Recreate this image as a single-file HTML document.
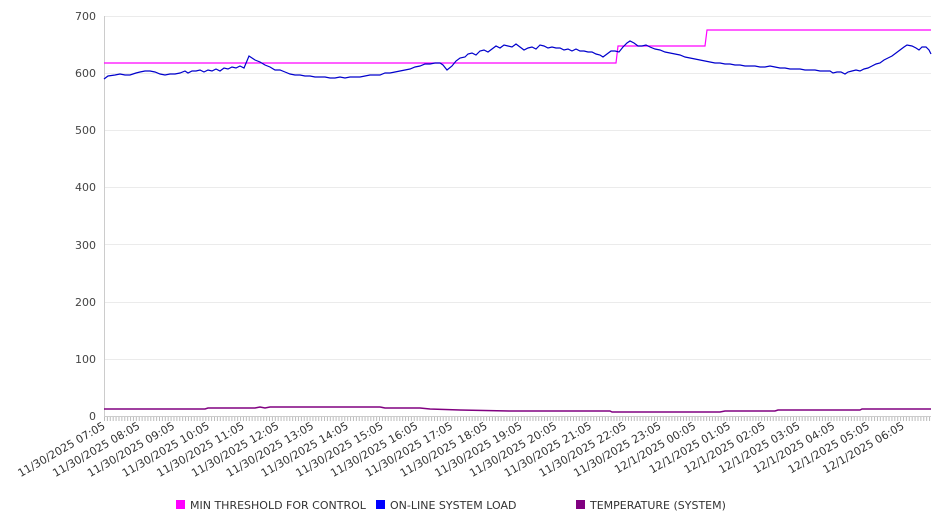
<!DOCTYPE html>
<html><head><meta charset="utf-8"><style>
html,body{margin:0;padding:0;background:#fff;width:946px;height:526px;overflow:hidden}
svg{display:block;font-family:"DejaVu Sans","Liberation Sans",sans-serif}
</style></head><body>
<svg width="946" height="526" xmlns="http://www.w3.org/2000/svg" id="s">
<g stroke="#ebebeb" stroke-width="1">
<line x1="104" x2="931" y1="16.5" y2="16.5"/><line x1="104" x2="931" y1="73.5" y2="73.5"/>
<line x1="104" x2="931" y1="130.5" y2="130.5"/><line x1="104" x2="931" y1="187.5" y2="187.5"/>
<line x1="104" x2="931" y1="244.5" y2="244.5"/><line x1="104" x2="931" y1="302.5" y2="302.5"/>
<line x1="104" x2="931" y1="359.5" y2="359.5"/>
</g>
<line x1="104.5" x2="104.5" y1="16" y2="416" stroke="#ccc"/>
<line x1="104" x2="931" y1="416.5" y2="416.5" stroke="#ccc"/>
<g font-size="11" fill="#444" text-anchor="end">
<text x="96" y="20">700</text><text x="96" y="77">600</text><text x="96" y="134">500</text>
<text x="96" y="191">400</text><text x="96" y="249">300</text><text x="96" y="306">200</text>
<text x="96" y="363">100</text><text x="96" y="420">0</text>
</g>
<g id="ticks" stroke="#bbb"></g>
<g id="labels" font-size="11" fill="#333" text-anchor="end"></g>
<polyline fill="none" stroke="#ff00ff" stroke-width="1.2" points="104,63 616,63 618,46 705,46 707,30 931,30"/>
<polyline fill="none" stroke="#800080" stroke-width="1.5" points="104,409 205,409 208,408 255,408 260,407 265,408 270,407 380,407 385,408 420,408 430,409 460,410 510,411 610,411 612,412 720,412 725,411 775,411 778,410 860,410 862,409 931,409"/>
<polyline fill="none" stroke="#0000cc" stroke-width="1.2" points="104,79 108,76 115,75 120,74 125,75 130,75 136,73 140,72 145,71 150,71 155,72 160,74 165,75 170,74 175,74 180,73 185,71 188,73 192,71 196,71 200,70 204,72 208,70 212,71 216,69 220,71 224,68 228,69 232,67 236,68 240,66 244,68 249,56 255,60 260,62 265,65 270,67 275,70 280,70 285,72 290,74 295,75 300,75 305,76 310,76 315,77 320,77 325,77 330,78 335,78 340,77 345,78 350,77 355,77 360,77 365,76 370,75 375,75 380,75 385,73 390,73 395,72 400,71 405,70 410,69 415,67 420,66 425,64 430,64 435,63 440,63 443,65 447,70 452,66 456,61 460,58 465,57 468,54 472,53 476,55 480,51 484,50 488,52 492,49 496,46 500,48 504,45 508,46 512,47 516,44 520,47 524,50 528,48 532,47 536,49 540,45 544,46 548,48 552,47 556,48 560,48 564,50 568,49 572,51 576,49 580,51 584,51 588,52 592,52 596,54 600,55 603,57 607,54 611,51 615,51 619,52 623,47 627,43 630,41 634,43 638,46 642,46 646,45 650,47 655,49 660,50 665,52 670,53 675,54 680,55 685,57 690,58 695,59 700,60 705,61 710,62 715,63 720,63 725,64 730,64 735,65 740,65 745,66 750,66 755,66 760,67 765,67 770,66 775,67 780,68 785,68 790,69 795,69 800,69 805,70 810,70 815,70 820,71 825,71 830,71 833,73 837,72 841,72 845,74 848,72 852,71 856,70 860,71 864,69 868,68 872,66 876,64 880,63 884,60 888,58 892,56 896,53 900,50 904,47 907,45 912,46 916,48 919,50 922,47 926,47 929,50 931,54"/>
<g font-size="11" fill="#333">
<rect x="176" y="500" width="9" height="9" fill="#ff00ff"/><text x="190" y="509">MIN THRESHOLD FOR CONTROL</text>
<rect x="376" y="500" width="9" height="9" fill="#0000ff"/><text x="390" y="509">ON-LINE SYSTEM LOAD</text>
<rect x="576" y="500" width="9" height="9" fill="#800080"/><text x="590" y="509">TEMPERATURE (SYSTEM)</text>
</g>
</svg>
<script>
var ns="http://www.w3.org/2000/svg",t=document.getElementById("ticks"),l=document.getElementById("labels");
var step=799/23/12;
for(var i=0;104+i*step<=931;i++){var x=104.5+i*step;var e=document.createElementNS(ns,"line");
e.setAttribute("x1",x);e.setAttribute("x2",x);e.setAttribute("y1",417);e.setAttribute("y2",421);t.appendChild(e);}
var labs=["11/30/2025 07:05","11/30/2025 08:05","11/30/2025 09:05","11/30/2025 10:05","11/30/2025 11:05","11/30/2025 12:05","11/30/2025 13:05","11/30/2025 14:05","11/30/2025 15:05","11/30/2025 16:05","11/30/2025 17:05","11/30/2025 18:05","11/30/2025 19:05","11/30/2025 20:05","11/30/2025 21:05","11/30/2025 22:05","11/30/2025 23:05","12/1/2025 00:05","12/1/2025 01:05","12/1/2025 02:05","12/1/2025 03:05","12/1/2025 04:05","12/1/2025 05:05","12/1/2025 06:05"];
for(var j=0;j<labs.length;j++){var x=106+j*799/23;var e=document.createElementNS(ns,"text");
e.setAttribute("transform","translate("+x+",428) rotate(-30)");e.textContent=labs[j];l.appendChild(e);}
</script>
</body></html>
